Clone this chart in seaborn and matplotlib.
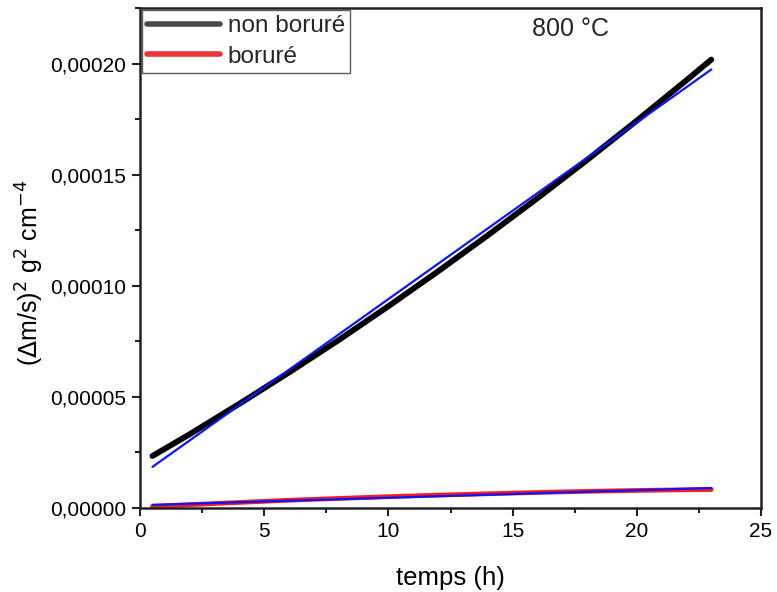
import numpy as np
import pandas as pd
import matplotlib
matplotlib.use("Agg")
import matplotlib.pyplot as plt
import seaborn as sns
from matplotlib.ticker import FuncFormatter, MultipleLocator
from matplotlib.lines import Line2D

# Oxidation kinetics at 800 °C: (Δm/s)^2 versus time, values in units of 1e-6 g^2 cm^-4
temps_h = [0.5, 2, 4, 6, 8, 10, 12, 14, 16, 18, 20, 22, 23]
non_borure = [23.4, 33.2, 46.9, 61.0, 75.6, 90.8, 106.5, 122.7, 139.4, 156.6, 174.3, 192.5, 201.8]
borure = [0.7, 1.5, 2.5, 3.5, 4.3, 5.1, 5.8, 6.4, 7.0, 7.5, 7.9, 8.2, 8.3]
UNIT = 1e-6

series_names = ["non boruré", "boruré"]

df = pd.DataFrame({
    "t": temps_h * 2,
    "v": [v * UNIT for v in non_borure] + [v * UNIT for v in borure],
    "serie": [series_names[0]] * len(temps_h) + [series_names[1]] * len(temps_h),
})

sns.set_theme(style="ticks")
plt.rcParams["font.family"] = ["Liberation Sans", "DejaVu Sans"]

fig = plt.figure(figsize=(7.77, 5.92), dpi=100)
ax = fig.add_axes([0.1802, 0.1419, 0.7992, 0.8446])

sns.lineplot(data=df[df.serie == "non boruré"], x="t", y="v", color="black",
             lw=4.2, ax=ax, legend=False, solid_capstyle="round")
sns.lineplot(data=df[df.serie == "boruré"], x="t", y="v", color="#ff1a1a",
             lw=3.4, ax=ax, legend=False, solid_capstyle="round")

# linear fits of each series
for name in series_names:
    sub = df[df.serie == name]
    slope, inter = np.polyfit(sub.t, sub.v, 1)
    tt = np.array([sub.t.min(), sub.t.max()])
    fit = pd.DataFrame({"t": tt, "v": slope * tt + inter})
    sns.lineplot(data=fit, x="t", y="v", color="#0a14ff", lw=1.6, ax=ax, legend=False)

ax.set_xlim(0, 25)
ax.set_ylim(0, 0.000225)
ax.xaxis.set_major_locator(MultipleLocator(5))
ax.xaxis.set_minor_locator(MultipleLocator(2.5))
ax.yaxis.set_major_locator(MultipleLocator(0.00005))
ax.yaxis.set_minor_locator(MultipleLocator(0.000025))
ax.yaxis.set_major_formatter(FuncFormatter(lambda v, p: f"{v:.5f}".replace(".", ",")))
ax.xaxis.set_major_formatter(FuncFormatter(lambda v, p: f"{v:g}"))

ax.tick_params(axis="both", which="major", direction="out", length=6, width=1.5,
               labelsize=15, colors="#222222", labelcolor="black", pad=4)
ax.tick_params(axis="both", which="minor", direction="out", length=3.5, width=1.5,
               colors="#222222")
for s in ax.spines.values():
    s.set_linewidth(1.8)
    s.set_color("#222222")

ax.set_xlabel("temps (h)", fontsize=18.5, labelpad=18, color="black")
ax.set_ylabel(r"($\Delta$m/s)$^{2}$ g$^{2}$ cm$^{-4}$", fontsize=18, color="black")
ax.yaxis.set_label_coords(-0.151, 0.47)

ax.text(0.694, 0.958, "800 °C", transform=ax.transAxes, fontsize=18, ha="center", va="center")

handles = [Line2D([], [], color="#4a4a4a", lw=4, solid_capstyle="round"),
           Line2D([], [], color="#ee3333", lw=4, solid_capstyle="round")]
leg = ax.legend(handles, series_names, loc="upper left", bbox_to_anchor=(0.0, 1.0),
                fontsize=17.5, frameon=True, fancybox=False, borderaxespad=0.1,
                handlelength=3.0, handletextpad=0.3, labelspacing=0.35,
                borderpad=0.2)
leg.get_frame().set_edgecolor("#333333")
leg.get_frame().set_linewidth(1.0)

fig.savefig("out.png", dpi=100, facecolor="white")
